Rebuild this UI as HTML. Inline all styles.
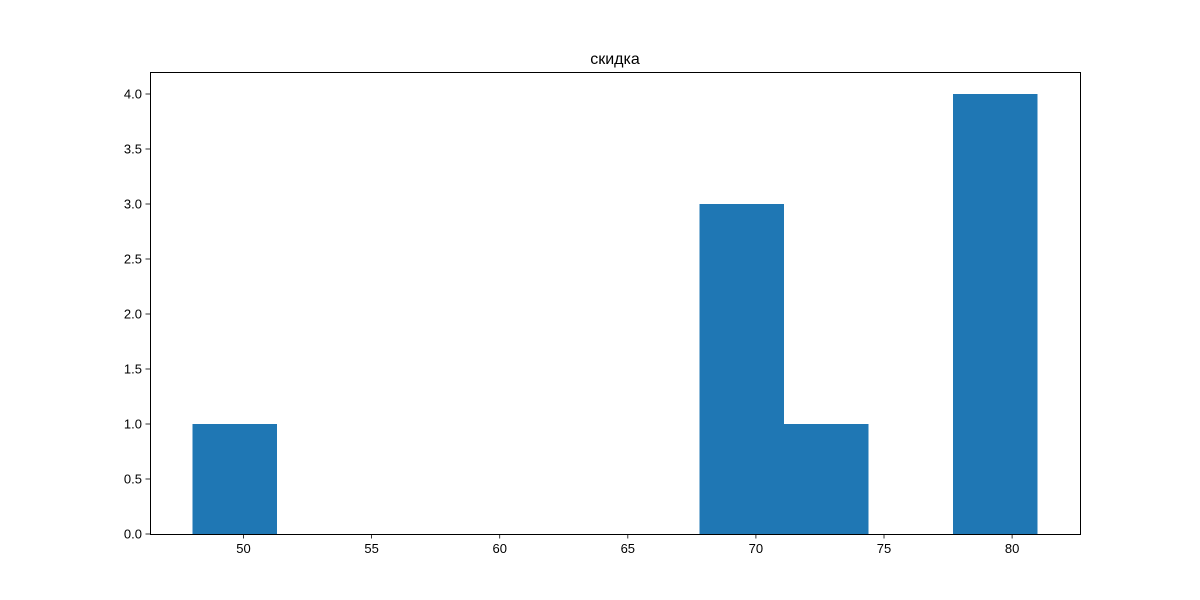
<!DOCTYPE html>
<html><head><meta charset="utf-8"><style>
html,body{margin:0;padding:0;background:#fff;}
svg{display:block;font-family:"Liberation Sans","DejaVu Sans",sans-serif;}
</style></head><body>
<svg id="chart" width="1200" height="600"></svg>
<script>
const binEdges = [48, 51.3, 54.6, 57.9, 61.2, 64.5, 67.8, 71.1, 74.4, 77.7, 81];
const counts = [1, 0, 0, 0, 0, 0, 3, 1, 0, 4];
const xTicks = [50, 55, 60, 65, 70, 75, 80];
const yTicks = [0, 0.5, 1.0, 1.5, 2.0, 2.5, 3.0, 3.5, 4.0];
const titleText = "скидка";

const L=150,R=1080,T=72,B=534;
const xMin=46.35,xMax=82.65,yMin=0,yMax=4.2;
const sx=v=>L+(v-xMin)/(xMax-xMin)*(R-L);
const sy=v=>B-(v-yMin)/(yMax-yMin)*(B-T);
const NS="http://www.w3.org/2000/svg";
const svg=document.getElementById('chart');
function mk(tag,attrs){const e=document.createElementNS(NS,tag);for(const k in attrs)e.setAttribute(k,attrs[k]);svg.appendChild(e);return e;}

counts.forEach((c,i)=>{
  if(c<=0)return;
  const x0=sx(binEdges[i]),x1=sx(binEdges[i+1]);
  const r=mk('rect',{x:x0,y:sy(c),width:x1-x0,height:sy(0)-sy(c),fill:'#1f77b4','shape-rendering':'crispEdges'});
  
  
});

const frame=mk('rect',{x:L+0.5,y:T+0.5,width:R-L,height:B-T,fill:'none',stroke:'#000','stroke-width':1,'shape-rendering':'crispEdges'});



xTicks.forEach(v=>{
  const x=sx(v);
  const t=mk('line',{x1:x,x2:x,y1:B,y2:B+4.5,stroke:'#000','stroke-width':0.8});
  
  
  const l=mk('text',{x:x,y:B+19,'font-size':13,'text-anchor':'middle',fill:'#000'});
  l.textContent=String(v);
  
  
});
yTicks.forEach(v=>{
  const y=sy(v);
  const t=mk('line',{x1:L-4.5,x2:L,y1:y,y2:y,stroke:'#000','stroke-width':0.8});
  
  
  const l=mk('text',{x:L-8,y:y+4.5,'font-size':13,'text-anchor':'end',fill:'#000'});
  l.textContent=v.toFixed(1);
  
  
});
const title=mk('text',{x:(L+R)/2,y:T-8,'font-size':16,'text-anchor':'middle',fill:'#000'});
title.textContent=titleText;


</script>
</body></html>
